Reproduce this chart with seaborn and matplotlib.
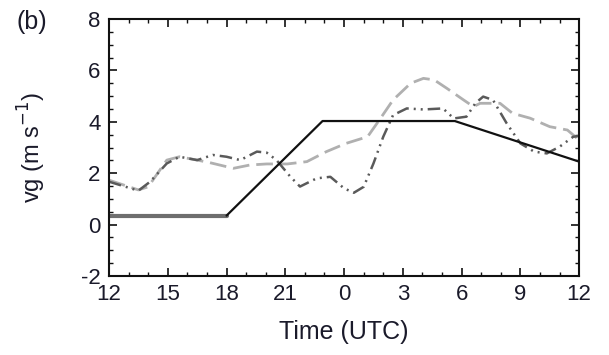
import numpy as np
import pandas as pd
import matplotlib
matplotlib.use("Agg")
import matplotlib.pyplot as plt
import seaborn as sns
from matplotlib.ticker import MultipleLocator, FixedLocator

# Hours since 12 UTC
solid_h = [0, 6, 10.9, 17.65, 24]
solid_v = [0.35, 0.35, 4.03, 4.03, 2.45]

dash_h = [0, 1.5, 2.0, 2.95, 3.6, 4.5, 5.15, 6.35, 7.2, 8.05, 9.1, 10.1, 11.1, 12.1,
          13.2, 13.8, 14.5, 15.4, 16.05, 16.6, 17.25, 18.1, 18.6, 18.95, 19.96, 20.6,
          21.5, 22.5, 23.4, 24]
dash_v = [1.73, 1.35, 1.47, 2.51, 2.64, 2.51, 2.41, 2.19, 2.32, 2.36, 2.36, 2.45, 2.84, 3.16,
          3.42, 4.07, 4.85, 5.5, 5.69, 5.63, 5.3, 4.85, 4.59, 4.72, 4.72, 4.33,
          4.14, 3.81, 3.68, 3.29]

dd_h = [0, 1.5, 2.1, 2.95, 3.6, 4.5, 5.3, 6.0, 6.7, 7.55, 8.05, 8.55, 9.25, 9.75, 10.6,
        11.3, 12.0, 12.5, 13.0, 13.5, 14.0, 14.5, 15.2, 16.05, 17.05, 17.6, 18.25, 18.7,
        19.1, 19.6, 20.3, 21.0, 21.7, 22.35, 23.0, 23.7, 24]
dd_v = [1.67, 1.32, 1.67, 2.38, 2.64, 2.51, 2.71, 2.64, 2.51, 2.84, 2.80, 2.51, 1.87, 1.48, 1.80,
        1.86, 1.41, 1.24, 1.47, 2.38, 3.42, 4.26, 4.52, 4.48, 4.52, 4.13, 4.2, 4.72,
        4.98, 4.85, 3.94, 3.16, 2.84, 2.77, 3.03, 3.42, 3.45]

xtick_pos = [0, 3, 6, 9, 12, 15, 18, 21, 24]
xtick_labels = ["12", "15", "18", "21", "0", "3", "6", "9", "12"]

sns.set_style("ticks")
plt.rcParams['font.family'] = ['Liberation Sans', 'DejaVu Sans']
plt.rcParams['axes.unicode_minus'] = False

txt = "#1a1a2a"
fig = plt.figure(figsize=(6.09, 3.55), dpi=100)
ax = fig.add_axes([0.179, 0.2225, 0.772, 0.724])

df_dash = pd.DataFrame({"h": dash_h, "v": dash_v})
df_dd = pd.DataFrame({"h": dd_h, "v": dd_v})
df_solid = pd.DataFrame({"h": solid_h, "v": solid_v})

sns.lineplot(data=df_dash, x="h", y="v", ax=ax, color="#b0b0b0", lw=2.0)
ax.lines[-1].set_dashes([6, 2.5])
sns.lineplot(data=df_dd, x="h", y="v", ax=ax, color="#5a5a5a", lw=1.8)
ax.lines[-1].set_dashes([5, 2, 0.8, 2, 0.8, 2])
sns.lineplot(data=df_solid.iloc[:2], x="h", y="v", ax=ax, color="#6e6e6e", lw=3.0)
sns.lineplot(data=df_solid.iloc[1:], x="h", y="v", ax=ax, color="#111111", lw=1.6)

ax.set_xlim(0, 24)
ax.set_ylim(-2, 8)
ax.xaxis.set_major_locator(FixedLocator(xtick_pos))
ax.set_xticklabels(xtick_labels)
ax.xaxis.set_minor_locator(MultipleLocator(1))
ax.yaxis.set_major_locator(MultipleLocator(2))
ax.yaxis.set_minor_locator(MultipleLocator(0.5))
ax.tick_params(which="both", direction="in", top=True, right=True, color="#111111",
               labelsize=16, labelcolor=txt)
ax.tick_params(which="major", length=6, width=1.2)
ax.tick_params(axis="x", which="major", pad=6)
ax.tick_params(axis="y", which="major", pad=6)
ax.tick_params(which="minor", length=3, width=1.0)
for s in ax.spines.values():
    s.set_linewidth(1.5)
    s.set_color("#111111")

ax.set_xlabel("Time (UTC)", fontsize=18, color=txt)
ax.set_ylabel("vg (m s$^{-1}$)", fontsize=17, color=txt)
ax.xaxis.set_label_coords(0.5, -0.17)
ax.yaxis.set_label_coords(-0.13, 0.5)
fig.text(0.053, 0.938, "(b)", fontsize=18, color=txt, ha="center", va="center")

fig.savefig("out.png", dpi=100)
